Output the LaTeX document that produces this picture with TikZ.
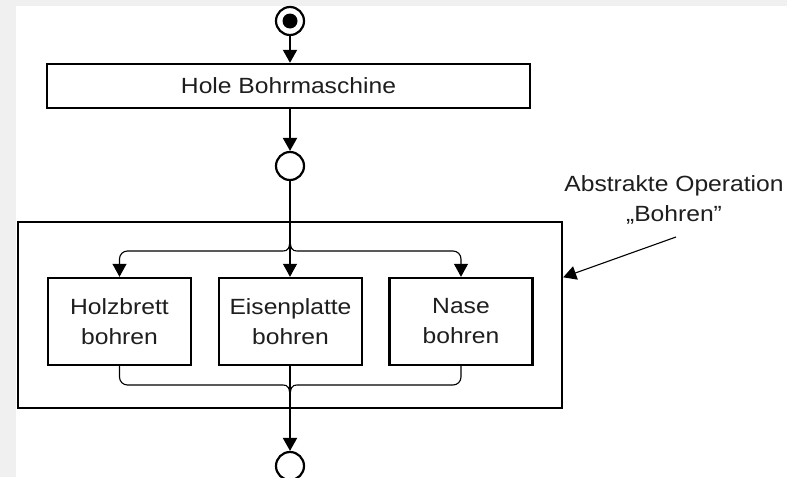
\documentclass[tikz,border=0pt]{standalone}
\usepackage{fontspec}
\setmainfont{Liberation Sans}[FakeStretch=1.12]
\usetikzlibrary{arrows.meta,positioning,calc}
\definecolor{bggray}{HTML}{F0F0F0}
\definecolor{textgray}{HTML}{1E1E1E}

\tikzset{
  action/.style={draw, line width=2.4pt, fill=white, align=center, inner sep=0pt,
    text=textgray, font=\fontsize{22}{30}\selectfont},
  state/.style={draw, circle, line width=2.2pt, minimum size=28pt, inner sep=0pt, fill=white},
  flow/.style={line width=2pt},
  branch/.style={line width=1.1pt, rounded corners=8pt},
  tip/.style={-{Triangle[width=14pt,length=13pt]}},
}

\begin{document}
\begin{tikzpicture}[x=1pt, y=-1pt]
    % Background
    \useasboundingbox (0,0) rectangle (787,477);
    \clip (0,0) rectangle (787,477);
    \fill[bggray] (0,0) rectangle (787,477);
    \fill[white] (16,6) rectangle (787,477);

    % Start and first action
    \node[state] (start) at (290,21) {};
    \fill (start) circle (7.5pt);
    \node[action, minimum width=483pt, minimum height=44pt] (hole) at (288.5,86) {Hole Bohrmaschine};
    \node[state] (mid) at (290,166) {};
    \draw[flow, tip] (start.south) -- (start.south |- hole.north);
    \draw[flow, tip] (hole.south -| mid) -- (mid.north);

    % Abstract operation
    \node[action, minimum width=544pt, minimum height=186pt] (abstract) at (290,315) {};
    \node[action, minimum width=143pt, minimum height=87pt] (holz) at (119.5,321.5) {Holzbrett\\bohren};
    \node[action, minimum width=143pt, minimum height=87pt] (eisen) at (290.5,321.5) {Eisenplatte\\bohren};
    \node[action, minimum width=143pt, minimum height=87pt] (nase) at (461,321.5) {Nase\\bohren};

    \coordinate (split) at (290,236);
    \coordinate (merge) at (290,400);

    % Fork
    \draw[flow] (mid.south) -- (split);
    \draw[branch, tip] (split) .. controls +(0,13) and +(13,0) .. ($(split)+(-15,15)$) -| (holz.north);
    \draw[branch, tip] (split) .. controls +(0,13) and +(-13,0) .. ($(split)+(15,15)$) -| (nase.north);
    \draw[branch, tip] (split) -- (split |- eisen.north);

    % Join
    \draw[branch] (holz.south) |- ($(merge)+(-15,-15)$) .. controls +(13,0) and +(0,-13) .. (merge);
    \draw[branch] (nase.south) |- ($(merge)+(15,-15)$) .. controls +(-13,0) and +(0,-13) .. (merge);
    \draw[branch] (merge |- eisen.south) -- (merge);

    % End
    \node[state] (final) at (290,466) {};
    \draw[flow, tip] (merge) -- (final.north);

    % Note
    \node[text=textgray, align=center, font=\fontsize{22}{30}\selectfont] (note) at (674,200) {Abstrakte Operation\\„Bohren\char34};
    \coordinate (notetail) at (676,237);
    \draw[line width=1.1pt, tip] (notetail) -- ($(abstract.north east)!0.3!(abstract.south east)$);
\end{tikzpicture}
\end{document}
